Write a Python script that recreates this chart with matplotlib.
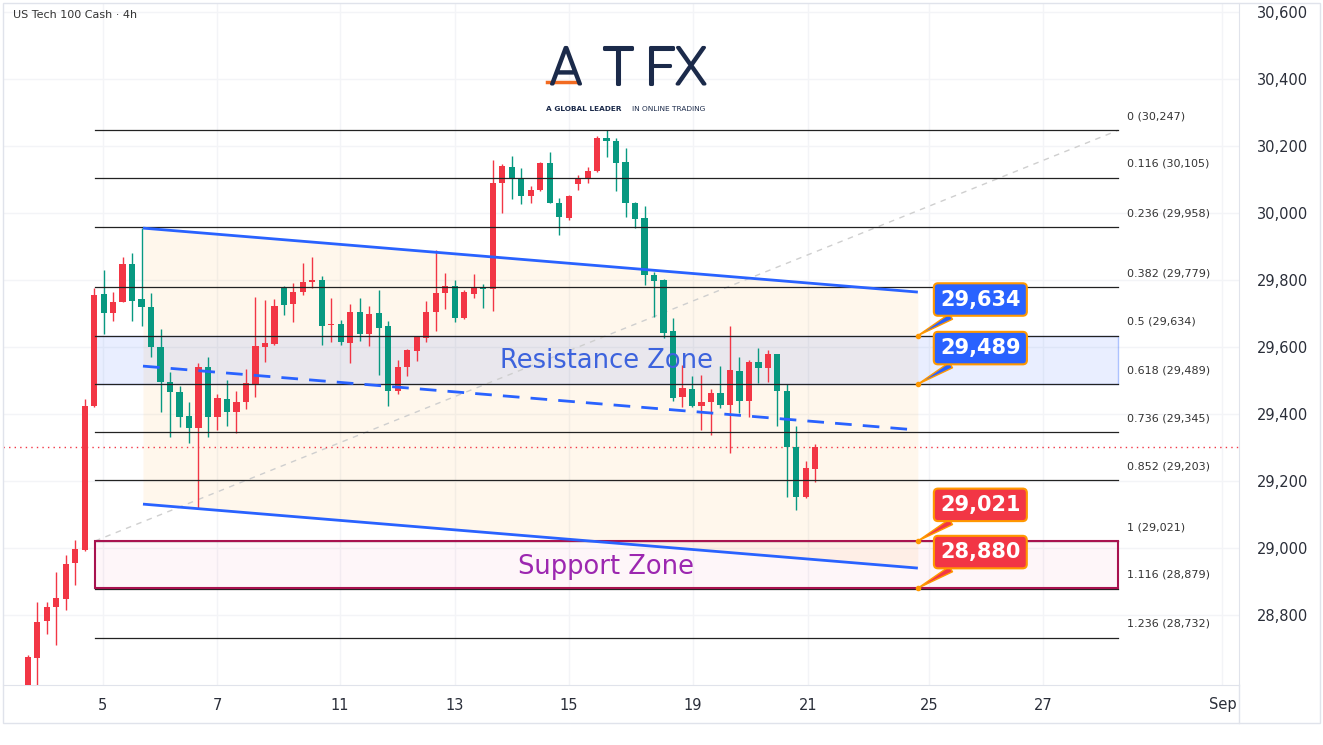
import matplotlib.pyplot as plt
import matplotlib.patheffects as pe
from matplotlib.patches import Rectangle
from matplotlib.lines import Line2D
import numpy as np

# 4h candles (red = up, green = down on this chart)
opens = [28575, 28671, 28783, 28823, 28848, 28954, 28994, 29425, 29757, 29701,
         29735, 29848, 29742, 29718, 29599, 29495, 29467, 29394, 29357, 29540,
         29392, 29445, 29407, 29435, 29490, 29599, 29608, 29778, 29728, 29763,
         29794, 29800, 29665, 29669, 29611, 29704, 29638, 29703, 29663, 29470,
         29539, 29589, 29626, 29706, 29760, 29782, 29686, 29758, 29780, 29772,
         30089, 30138, 30101, 30051, 30069, 30150, 30029, 29984, 30086, 30104,
         30124, 30225, 30215, 30151, 30031, 29984, 29815, 29800, 29648, 29452,
         29474, 29424, 29435, 29462, 29427, 29528, 29439, 29556, 29537, 29578,
         29470, 29303, 29151, 29235]
highs = [28680, 28840, 28840, 28929, 28979, 29024, 29445, 29775, 29830, 29763,
         29870, 29880, 29955, 29762, 29654, 29525, 29485, 29435, 29552, 29569,
         29460, 29501, 29469, 29534, 29748, 29740, 29742, 29782, 29790, 29850,
         29870, 29812, 29746, 29681, 29728, 29746, 29721, 29770, 29678, 29561,
         29593, 29631, 29738, 29890, 29822, 29800, 29770, 29817, 29787, 30158,
         30145, 30170, 30133, 30081, 30152, 30183, 30046, 30053, 30113, 30138,
         30230, 30247, 30223, 30195, 30034, 30022, 29825, 29803, 29687, 29546,
         29512, 29516, 29475, 29543, 29664, 29571, 29561, 29596, 29591, 29580,
         29490, 29364, 29260, 29310]
lows = [28560, 28575, 28743, 28710, 28815, 28890, 28990, 29420, 29639, 29678,
        29733, 29679, 29663, 29571, 29407, 29330, 29360, 29312, 29118, 29330,
        29352, 29364, 29342, 29415, 29450, 29556, 29605, 29695, 29674, 29755,
        29775, 29606, 29616, 29606, 29551, 29618, 29603, 29516, 29424, 29460,
        29513, 29558, 29616, 29649, 29713, 29676, 29683, 29745, 29715, 29708,
        29999, 30041, 30026, 30029, 30066, 30029, 29934, 29980, 30069, 30089,
        30122, 30166, 30067, 29989, 29954, 29785, 29690, 29626, 29440, 29422,
        29422, 29352, 29337, 29417, 29285, 29402, 29392, 29492, 29497, 29365,
        29151, 29113, 29150, 29198]
closes = [28676, 28780, 28823, 28852, 28952, 28997, 29425, 29755, 29701, 29735,
          29848, 29738, 29718, 29599, 29495, 29467, 29392, 29357, 29540, 29392,
          29449, 29407, 29437, 29492, 29603, 29611, 29722, 29725, 29765, 29795,
          29800, 29663, 29669, 29616, 29704, 29638, 29699, 29658, 29469, 29540,
          29591, 29629, 29704, 29762, 29782, 29686, 29765, 29780, 29772, 30090,
          30141, 30101, 30051, 30069, 30150, 30029, 29989, 30051, 30106, 30124,
          30225, 30216, 30148, 30029, 29982, 29815, 29797, 29643, 29449, 29477,
          29424, 29437, 29462, 29427, 29531, 29439, 29556, 29537, 29578, 29470,
          29303, 29151, 29238, 29303]

date_pos = [7.93, 19.95, 32.9, 45.0, 57.0, 70.1, 82.2, 95.0, 107.0, 125.9]
date_labels = ['5', '7', '11', '13', '15', '19', '21', '25', '27', 'Sep']
price_ticks = np.arange(28800, 30601, 200)

fib_ratios = ['0', '0.116', '0.236', '0.382', '0.5', '0.618', '0.736', '0.852', '1', '1.116', '1.236']
fib_levels = [30247, 30105, 29958, 29779, 29634, 29489, 29345, 29203, 29021, 28879, 28732]
fib_start, fib_end = 7.1, 114.9

chan_x = [12.15, 93.8]
chan_upper = [29955, 29764]
chan_lower = [29131, 28940]

callout_prices = [29634, 29489, 29021, 28880]
callout_colors = ['#2962ff', '#2962ff', '#f23645', '#f23645']

RED, GREEN = '#f23645', '#089981'
TXT = '#2a2e39'

fig = plt.figure(figsize=(13.23, 7.45), dpi=100)
W, H = 1323, 745
ax = fig.add_axes([3 / W, 1 - 685 / H, 1236 / W, 682 / H])
ax.set_xlim(-2.6, 127.64)
ax.set_ylim(28591, 30627)

# grid / axes
ax.set_xticks(date_pos)
ax.set_xticklabels(date_labels, fontsize=10.5, color=TXT)
ax.set_yticks(price_ticks)
ax.set_yticklabels([f'{p:,}' for p in price_ticks], fontsize=10.5, color=TXT)
ax.yaxis.tick_right()
ax.tick_params(axis='both', length=0)
ax.tick_params(axis='y', pad=13)
ax.tick_params(axis='x', pad=9)
ax.grid(color='#f3f4f7', lw=1, zorder=0)
ax.set_axisbelow(True)
for s in ['top', 'left']:
    ax.spines[s].set_visible(False)
ax.spines['right'].set_color('#e0e3eb')
ax.spines['bottom'].set_color('#e0e3eb')

# parallel channel fill
ax.fill_between(chan_x, chan_lower, chan_upper, color='#ff9800', alpha=0.075, lw=0, zorder=1)

# zones
ax.add_patch(Rectangle((fib_start, fib_levels[5]), fib_end - fib_start, fib_levels[4] - fib_levels[5],
                       fc=(0.16, 0.38, 1, 0.1), ec=(0.16, 0.38, 1, 0.35), lw=1, zorder=1.5))
ax.add_patch(Rectangle((fib_start, callout_prices[3]), fib_end - fib_start,
                       fib_levels[8] - callout_prices[3],
                       fc=(0.9, 0.1, 0.4, 0.04), ec='#a8124f', lw=1.5, zorder=6))

# fib trend line
ax.plot([fib_start, fib_end], [fib_levels[8], fib_levels[0]], color='#cfcfcf', lw=1,
        ls=(0, (4, 4)), zorder=2)

# current price line
ax.axhline(closes[-1], color=RED, lw=1, ls=(0, (1, 3)), zorder=2)

# candles
x = np.arange(len(opens))
o, h, l, c = map(np.array, (opens, highs, lows, closes))
cols = np.where(c >= o, RED, GREEN)
ax.vlines(x, l, h, colors=cols, lw=1, zorder=3)
ax.bar(x, np.maximum(np.abs(c - o), 3), bottom=np.minimum(o, c), width=0.65, color=cols, zorder=4)

# fib levels
for r, lv in zip(fib_ratios, fib_levels):
    ax.plot([fib_start, fib_end], [lv, lv], color='#222222', lw=0.9, zorder=5)
    ax.annotate(f'{r} ({lv:,})', xy=(fib_end, lv), xytext=(6.5, 10), textcoords='offset points',
                ha='left', va='center', fontsize=8, color='#333333')

# channel lines
ax.plot(chan_x, chan_upper, color='#2962ff', lw=2, zorder=7, solid_capstyle='butt')
ax.plot(chan_x, chan_lower, color='#2962ff', lw=2, zorder=7, solid_capstyle='butt')
ax.plot(chan_x, [(a + b) / 2 for a, b in zip(chan_upper, chan_lower)], color='#2962ff',
        lw=2, ls=(0, (6, 4)), zorder=7)

# zone labels
ax.text(61.0, 29558, 'Resistance Zone', fontsize=18.5, color='#3d63dd', ha='center', va='center', zorder=8)
ax.text(60.9, 28943, 'Support Zone', fontsize=18.5, color='#9c27b0', ha='center', va='center', zorder=8)

# callouts
for p, col in zip(callout_prices, callout_colors):
    ax.annotate(f'{p:,}', xy=(chan_x[1], p), xytext=(45, 26), textcoords='offset points',
                ha='center', va='center', color='white', fontsize=15, fontweight='bold',
                bbox=dict(boxstyle='round,pad=0.3,rounding_size=0.2', fc=col, ec='#ff9800', lw=1.5),
                arrowprops=dict(arrowstyle='wedge,tail_width=0.3,shrink_factor=0.5', fc=col,
                                ec='#ff9800', lw=1, shrinkA=0, shrinkB=0),
                zorder=10)
    ax.plot(chan_x[1], p, 'o', color='#ff9800', ms=3, zorder=11)

# frame and title
fig.add_artist(Rectangle((3 / W, 1 - 723 / H), 1317 / W, 720 / H, transform=fig.transFigure,
                         fill=False, ec='#e0e3eb', lw=1))
fig.add_artist(Line2D([1239 / W, 1239 / W], [1 - 723 / H, 1 - 685 / H], color='#e0e3eb', lw=1))
fig.text(13 / W, 1 - 15 / H, 'US Tech 100 Cash · 4h', fontsize=8, color='#333333', va='center')

# watermark logo
navy = '#1b2a4a'
for ch, cx in zip('ATFX', [566, 618, 660, 691]):
    fig.text(cx / W, 1 - 70 / H, ch, fontsize=37, family=['Roboto', 'Lato'], fontweight='light',
             color=navy, ha='center', va='center',
             path_effects=[pe.withStroke(linewidth=2.2, foreground=navy)])
fig.add_artist(Line2D([547 / W, 577 / W], [1 - 82 / H, 1 - 82 / H], color='#f26b21', lw=2.5))
fig.text(546 / W, 1 - 109 / H, 'A GLOBAL LEADER', fontsize=5.3, fontweight='bold', color=navy, va='center')
fig.text(632 / W, 1 - 109 / H, 'IN ONLINE TRADING', fontsize=5.3, color=navy, va='center')

fig.savefig('out.png', dpi=100)
